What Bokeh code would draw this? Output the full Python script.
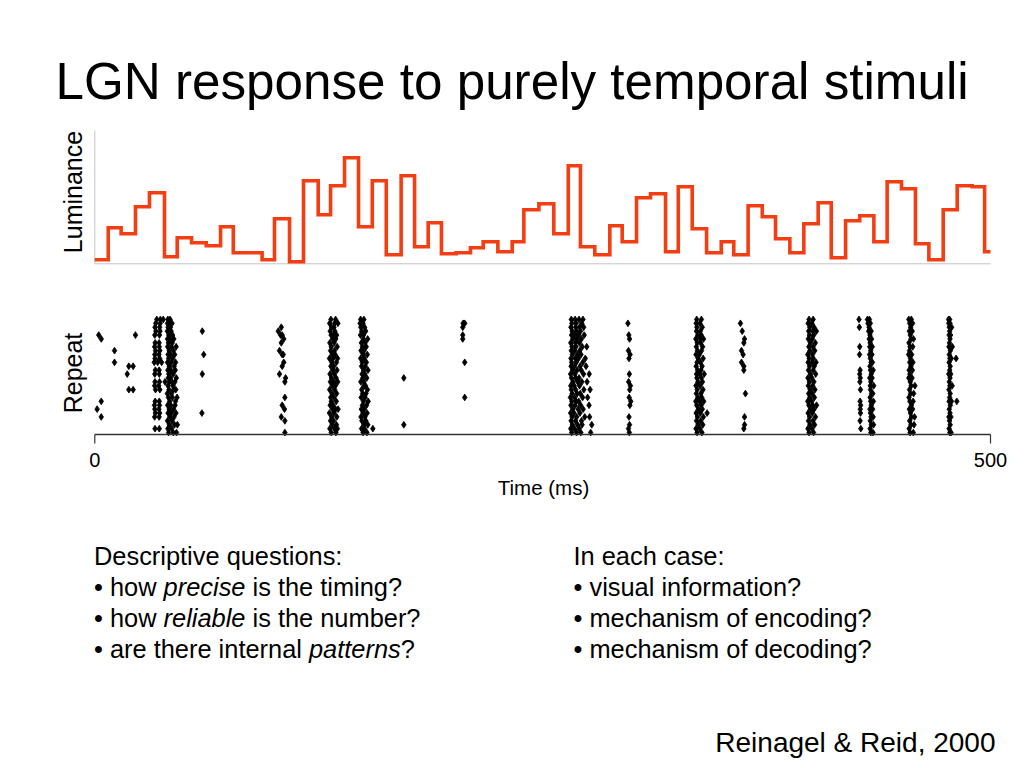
from bokeh.plotting import figure
from bokeh.models import Range1d
from bokeh.core.properties import value
from bokeh.embed import file_html
from bokeh.resources import INLINE
import math

# ---------------- data ----------------
# luminance stimulus: step edges (ms) and the level of each step (arbitrary units)
lum_edges_ms = [7.5, 14.7, 22.7, 30.5, 38.9, 46.0, 54.0, 62.2, 70.2, 77.3,
                85.1, 93.4, 100.3, 108.7, 116.5, 124.7, 131.6, 139.4, 147.2, 154.9,
                162.7, 171.0, 178.5, 186.1, 193.5, 201.7, 209.7, 216.8, 225.0, 233.0,
                239.5, 247.9, 256.2, 264.3, 271.1, 279.1, 287.5, 294.4, 302.4, 310.2,
                318.6, 325.7, 333.5, 341.5, 349.7, 356.7, 364.7, 372.6, 380.0, 388.0,
                395.8, 403.8, 411.1, 419.1, 427.0, 434.9, 442.3, 450.3, 458.1, 465.6,
                473.6, 481.4, 489.8, 496.7]
lum_levels = [4, 36, 30, 57, 71, 7, 26, 21, 18, 37, 11, 11, 4, 45, 2, 83, 49, 78, 106, 37,
              83, 9, 88, 17, 41, 10, 11, 16, 22, 12, 22, 54, 60, 30, 98, 17, 9, 38, 22, 66,
              70, 12, 77, 35, 11, 22, 9, 58, 47, 25, 11, 40, 61, 6, 43, 48, 22, 82, 75, 20,
              4, 54, 78, 77, 12]
time_ticks = [0, 500]
time_tick_labels = ["0", "500"]

# raster: dense bands, one list of spike times (ms) per repeat, repeat 1 at the bottom
band_042 = [[41.2, 43.8, 45.6], [40.8, 42.9], [41.6, 44.5, 46.1], [40.6, 43.1], [41.9, 44.2],
            [40.9, 42.6, 45.3], [41.5, 43.9], [40.7, 42.4, 44.8], [41.8, 45.0], [41.1, 43.3, 45.9],
            [40.5, 42.8], [41.4, 44.0, 45.2], [40.9, 43.6], [39.2, 41.7, 43.0, 44.7], [41.0, 42.2, 45.5],
            [41.3, 43.7], [40.8, 42.5, 44.9], [41.6, 44.3], [40.6, 42.7, 45.1], [41.2, 43.5],
            [40.9, 42.3, 44.6], [41.5, 43.9], [40.7, 42.8, 45.4], [41.1, 43.2], [40.6, 42.0, 44.1],
            [41.3, 43.4], [40.5, 42.6], [40.9, 42.2], [40.6, 41.9, 43.1], [40.8, 42.0]]
band_133 = [[132.0, 134.6], [131.2, 133.8, 135.4], [132.5, 134.9], [131.6, 133.3], [132.2, 135.1],
            [131.0, 133.6], [132.7, 134.4, 135.8], [131.4, 133.1], [132.0, 134.8], [131.7, 133.5],
            [132.4, 135.0], [131.1, 133.9], [132.6, 134.3], [131.5, 133.2, 135.6], [132.1, 134.7],
            [131.3, 133.7], [132.8, 135.2], [131.8, 133.4], [132.3, 134.9], [131.0, 133.0, 135.5],
            [132.5, 134.2], [131.6, 133.8], [132.0, 135.3], [131.2, 133.6], [132.7, 134.5],
            [131.9, 133.1, 135.0], [131.4, 134.0], [132.2, 133.5], [131.1, 133.9, 135.7], [131.8, 134.4]]
band_150 = [[149.8, 151.9], [148.9, 150.6], [150.2, 152.4], [149.1, 151.3], [148.6, 150.8],
            [149.7, 152.0], [148.8, 150.4], [149.4, 151.7], [150.0, 152.6], [148.7, 150.9],
            [149.5, 151.4], [149.0, 152.2], [150.3, 151.1], [148.5, 150.2], [149.6, 151.8],
            [149.2, 150.7], [150.1, 152.5], [148.9, 151.0], [149.3, 151.6], [148.4, 150.5],
            [149.8, 152.1], [148.6, 150.3], [149.4, 151.5], [148.8, 150.9], [149.9, 152.3],
            [148.3, 150.0], [149.0, 151.2], [148.5, 150.6], [148.1, 149.7], [148.4, 150.2]]
band_268 = [[266.2, 268.9, 271.3, 276.8], [265.7, 267.8, 270.4], [266.6, 269.5, 272.0, 277.4],
            [265.9, 268.3, 271.7], [266.4, 269.0, 273.5, 276.2], [265.6, 267.5, 270.8],
            [266.8, 269.8, 272.6], [265.8, 268.1, 271.2, 275.9], [266.3, 268.7, 270.1],
            [265.5, 267.9, 272.3, 275.1], [266.5, 269.3, 271.0], [266.0, 268.4, 273.0, 276.5],
            [265.7, 267.6, 270.6], [266.9, 269.6, 271.9, 274.8], [266.1, 268.5, 270.3],
            [265.6, 268.0, 272.8, 276.0], [266.7, 269.2, 271.5], [265.9, 267.7, 270.9, 274.2],
            [266.2, 268.8, 272.4], [265.8, 268.2, 270.0, 273.8], [266.6, 269.4, 271.4],
            [266.0, 267.9, 270.7], [266.4, 268.6, 272.1, 274.6], [265.7, 268.3, 270.5],
            [266.8, 269.1, 271.6], [266.1, 267.8, 270.2, 273.2], [266.5, 268.9, 271.1],
            [265.8, 268.4, 270.6, 272.9], [266.3, 268.7, 271.8], [266.0, 268.1, 270.3, 272.5]]
band_338 = [[336.2, 338.9], [335.6, 337.8], [336.8, 339.4], [335.9, 338.2], [336.4, 339.7],
            [335.7, 338.0, 341.8], [336.9, 339.1], [336.0, 338.5], [335.5, 337.6, 339.9], [336.6, 338.8],
            [335.8, 338.3], [336.3, 339.5], [335.6, 337.9], [336.7, 339.2], [336.1, 338.6],
            [335.9, 337.7, 340.2], [336.5, 338.4], [335.7, 339.0], [336.2, 338.1], [336.8, 339.6],
            [335.6, 337.5], [336.4, 338.7], [335.8, 339.3], [336.3, 338.2], [335.5, 337.9, 339.8],
            [336.6, 338.5], [335.9, 338.0], [336.1, 339.1], [335.7, 337.8], [336.0, 338.6]]
band_400 = [[398.7, 401.2], [398.1, 400.4], [399.2, 401.8], [398.4, 400.9], [399.0, 402.3],
            [398.2, 400.6], [399.4, 401.5], [398.6, 400.8, 402.9], [398.0, 400.2], [399.1, 401.7],
            [398.5, 400.5], [399.3, 402.0], [398.3, 400.7], [398.9, 401.4], [398.1, 400.3],
            [399.5, 402.4], [398.4, 401.0], [399.0, 401.6], [398.2, 400.4, 402.6], [398.8, 401.1],
            [398.0, 400.6], [399.2, 401.9], [398.6, 400.9], [399.4, 402.2], [398.3, 400.5],
            [398.9, 401.3], [398.5, 400.8, 402.8], [399.1, 401.5], [398.2, 400.3], [398.7, 401.0]]
band_433 = [[433.2, 434.4], [432.8], [433.5, 434.7], [432.9], [433.3, 434.5], [433.0],
            [432.7, 434.2], [433.4], [433.1, 434.6], [432.8], [433.6, 434.3], [433.0],
            [432.9, 434.8], [433.2], [432.6, 433.9], [433.4], [433.0, 434.5], [432.7],
            [433.3, 434.1], [432.9], [432.5, 433.8], [433.1], [432.6, 434.0], [432.8],
            [432.3, 433.6], [432.7], [432.0, 433.4], [432.2], [431.6, 432.9], [431.3, 432.4]]
band_455 = [[455.1, 456.9], [454.6], [455.6, 457.3], [454.9], [455.9, 457.6], [455.3],
            [454.7, 456.5], [455.8], [455.0, 456.8], [454.5], [455.4, 457.1], [454.8],
            [455.7, 457.8], [455.2], [454.4, 456.2], [455.0], [454.6, 456.4], [455.5],
            [454.9, 456.7], [455.3], [454.3, 456.0], [454.8], [455.1, 456.6], [454.5],
            [455.6, 457.0], [455.2], [454.7, 456.3], [455.4], [454.9, 456.5], [454.4, 455.8]]
band_477 = [[477.3, 478.0], [476.9], [477.5], [477.1], [476.8, 477.9], [477.4], [477.0],
            [477.6], [476.9, 478.2], [477.2], [477.5], [476.8], [477.3, 478.6], [477.0],
            [477.4], [476.7, 477.8], [477.2], [477.5], [476.9], [477.3, 478.1], [477.0],
            [477.6], [476.8, 478.7], [477.1], [477.4], [476.9, 477.7], [477.2], [477.0, 478.3],
            [476.7, 477.4], [476.6, 477.2]]

# early column of paired spikes (only some repeats)
pair_repeats = [2, 5, 6, 7, 8, 9, 12, 13, 14, 16, 17, 19, 20, 21, 22, 23, 24, 26, 27, 28, 29, 30]
pair_times = [[33.6, 36.0], [33.4, 35.9], [33.8, 36.2], [33.5, 35.8], [33.3, 36.1], [33.7, 36.0],
              [33.9, 36.3], [33.4, 35.7], [33.6, 36.1], [33.5, 36.0], [33.8, 35.9], [33.2, 35.1, 37.3],
              [33.6, 36.2], [33.5, 35.8], [33.9, 36.3], [33.4, 36.0], [33.7, 35.9], [33.5, 36.1],
              [34.1, 36.4], [33.6, 36.2], [34.0, 36.5], [34.6, 36.6, 38.2]]

# isolated spikes: time (ms) and repeat
sparse_ms = [2.2, 3.6, 11.0, 11.0, 22.7, 19.0, 21.4, 18.1, 19.0, 21.4, 3.6, 1.3, 3.6,
             60.0, 60.8, 60.0, 59.8,
             104.1, 102.4, 103.7, 104.6, 105.5, 104.1, 103.1, 104.6, 105.2, 105.5,
             104.6, 103.1, 106.5, 106.1, 106.1, 104.6, 105.9, 104.1, 106.1, 106.1,
             155.2, 172.5, 172.5,
             206.5, 205.6, 205.4, 205.4, 205.4, 206.5, 206.5,
             297.6, 298.1, 298.5, 297.9, 298.8, 298.2, 298.4, 298.0, 299.0, 298.6,
             298.3, 299.2, 298.7, 298.2, 298.5, 297.9, 298.4,
             360.4, 361.4, 362.7, 362.3, 361.0, 361.9, 361.0, 362.3, 362.3, 363.2,
             362.7, 362.7, 362.3,
             426.6, 426.8, 427.0, 426.9, 427.2, 427.0, 427.3, 427.1, 427.4, 427.2,
             427.5, 427.3, 427.4, 427.2, 427.6,
             480.8, 481.2]
sparse_repeat = [26, 25, 22, 19, 26, 18, 18, 16, 12, 12, 9, 7, 5,
                 27, 21, 16, 6,
                 28, 27, 26, 26, 25, 24, 22, 21, 21, 19,
                 18, 16, 15, 14, 10, 8, 7, 5, 4, 1,
                 2, 15, 3,
                 29, 29, 28, 26, 25, 19, 10,
                 29, 26, 25, 22, 21, 20, 16, 14, 13, 12,
                 10, 9, 8, 5, 3, 2, 1,
                 29, 27, 25, 24, 22, 21, 19, 18, 17, 11,
                 5, 3, 2,
                 30, 28, 23, 21, 17, 16, 15, 14, 12, 9,
                 8, 7, 6, 4, 2,
                 20, 9]

# ---------------- layout (picture pixels) ----------------
W, H = 1016, 760
PAGE_L, PAGE_T = 0, 0
X0_PX, X500_PX = 94.3, 990.0
PX_PER_MS = (X500_PX - X0_PX) / 500.0
AXIS_PY = 434.0             # raster time axis
ROW_PX = 3.9                # one repeat
LUM_BASE_PY = 263.3         # luminance baseline
LUM_TOP = 133.3             # top of luminance axis (units)
BASE_SHIFT = 0.39           # renderer draws "alphabetic" text ~0.39 em low

def ms_at(px):
    return (px - X0_PX) / PX_PER_MS

def rep_at(py):
    return 0.5 + (AXIS_PY - py) / ROW_PX

def lum_at(py):
    return LUM_BASE_PY - py

p = figure(width=W, height=H, output_backend="svg", toolbar_location=None,
           x_range=Range1d(ms_at(PAGE_L), ms_at(PAGE_L + W)),
           y_range=Range1d(rep_at(PAGE_T + H), rep_at(PAGE_T)),
           x_axis_location=None, y_axis_location=None, title=None,
           min_border=0)
p.extra_y_ranges = {"lum": Range1d(lum_at(PAGE_T + H), lum_at(PAGE_T)),
                    "py": Range1d(PAGE_T + H, PAGE_T)}
p.extra_x_ranges = {"px": Range1d(PAGE_L, PAGE_L + W)}
p.outline_line_color = None
p.background_fill_color = "white"
p.border_fill_color = "white"
p.xgrid.visible = False
p.ygrid.visible = False

# ---- luminance panel ----
p.line([0, 0], [0, LUM_TOP], y_range_name="lum", line_color="#C4C4C4", line_width=1)
p.line([0, 500], [0, 0], y_range_name="lum", line_color="#C4C4C4", line_width=1)
step_x = [0] + lum_edges_ms + [500]
step_y = lum_levels + [lum_levels[-1]]
p.step(step_x, step_y, mode="after", y_range_name="lum",
       line_color="#F33D12", line_width=3.6, line_join="miter")

# ---- raster panel ----
rx, ry = [], []
for band in [band_042, band_133, band_150, band_268, band_338, band_400,
             band_433, band_455, band_477]:
    for rep, spikes in enumerate(band, start=1):
        for t in spikes:
            rx.append(t)
            ry.append(rep)
for rep, spikes in zip(pair_repeats, pair_times):
    for t in spikes:
        rx.append(t)
        ry.append(rep)
rx += sparse_ms
ry += sparse_repeat
p.scatter(rx, ry, marker="diamond", size=6.8, fill_color="black", line_color="black",
          line_width=0.8)

# time axis (drawn with the raster's own scales)
p.line([time_ticks[0], time_ticks[-1]], [0.5, 0.5], line_color="#333333", line_width=1.3)
tick_len_rep = 9.0 / ROW_PX
p.segment(x0=time_ticks, y0=[0.5] * len(time_ticks), x1=time_ticks,
          y1=[0.5 - tick_len_rep] * len(time_ticks), line_color="#333333", line_width=1.2)
TICK_FS = 20.0
p.text(x=time_ticks, y=[rep_at(467 - BASE_SHIFT * TICK_FS)] * len(time_ticks),
       text=time_tick_labels,
       text_font=value("Liberation Sans"), text_font_size=value("%gpx" % TICK_FS),
       text_align="center", text_baseline="alphabetic", text_color="black")

FONT = value("Liberation Sans")

def put(x, y, s, size, style="normal", align="left", angle=0.0):
    # (x, y): wanted baseline anchor in picture pixels
    sh = BASE_SHIFT * size
    x -= sh * math.sin(angle)
    y -= sh * math.cos(angle)
    p.text(x=[x], y=[y], text=[s], x_range_name="px", y_range_name="py",
           text_font=FONT, text_font_size=value("%gpx" % size), text_font_style=style,
           text_align=align, text_baseline="alphabetic", text_color="black",
           angle=angle)

# axis labels
put(543, 495, "Time (ms)", 20.5, align="center")
put(82, 191.5, "Luminance", 25, align="center", angle=math.pi / 2)
put(82.3, 372.5, "Repeat", 25, align="center", angle=math.pi / 2)

# title
put(55, 101, "LGN response to purely temporal stimuli", 51.2)

# left text column
FS = 25.4
LX = 93.5
put(LX, 565, "Descriptive questions:", FS)
put(LX, 596, "\u2022 how", FS)
put(163.1, 596, "precise", FS, style="italic")
put(252.0, 596, "is the timing?", FS)
put(LX, 627, "\u2022 how", FS)
put(163.1, 627, "reliable", FS, style="italic")
put(252.0, 627, "is the number?", FS)
put(LX, 658, "\u2022 are there internal", FS)
put(308.5, 658, "patterns", FS, style="italic")
put(400.3, 658, "?", FS)

# right text column
RX = 573
put(RX, 565, "In each case:", FS)
put(RX, 596, "\u2022 visual information?", FS)
put(RX, 627, "\u2022 mechanism of encoding?", FS)
put(RX, 658, "\u2022 mechanism of decoding?", FS)

# citation
put(995, 753, "Reinagel & Reid, 2000", 28, align="right")

open("out.html", "w").write(file_html(p, INLINE))
